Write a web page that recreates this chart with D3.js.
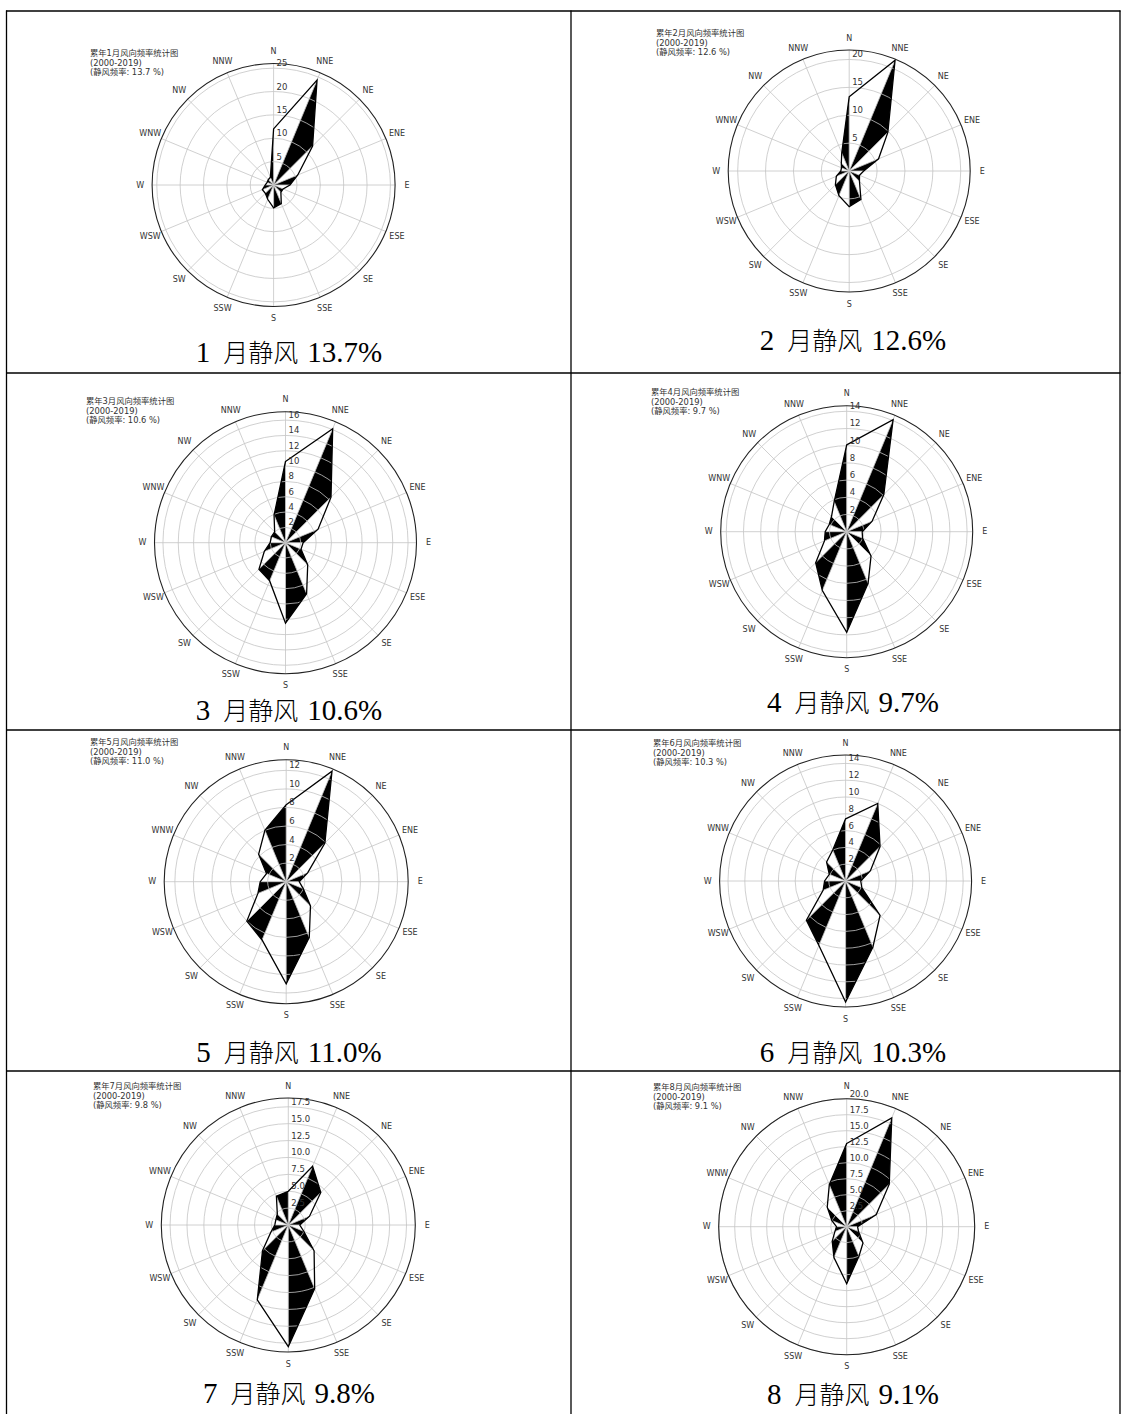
<!DOCTYPE html>
<html>
<head>
<meta charset="utf-8">
<script src="https://cdnjs.cloudflare.com/ajax/libs/d3/7.8.5/d3.min.js"></script>
<style>
  body { margin: 0; background: #fff; }
  svg { display: block; }
</style>
</head>
<body>
<svg id="chart" width="1126" height="1414"></svg>
<script>

var directions = ["N","NNE","NE","ENE","E","ESE","SE","SSE","S","SSW","SW","WSW","W","WNW","NW","NNW"];
var months = [1, 2, 3, 4, 5, 6, 7, 8];
var calmFreq = [13.7, 12.6, 10.6, 9.7, 11.0, 10.3, 9.8, 9.1];

// wind direction frequency (%), order as directions
var freqJan = [12.0, 24.3, 11.8, 5.6, 3.5, 2.2, 2.2, 4.3, 4.9, 3.3, 2.5, 2.6, 1.8, 1.5, 1.6, 1.8];
var freqFeb = [13.3, 21.5, 9.8, 5.7, 2.6, 2.0, 2.6, 5.5, 6.4, 4.8, 3.5, 2.5, 1.5, 1.5, 2.0, 3.5];
var freqMar = [10.6, 16.1, 8.4, 4.6, 2.3, 2.2, 4.1, 7.2, 10.5, 5.4, 4.9, 3.0, 2.0, 2.0, 2.0, 3.9];
var freqApr = [10.1, 14.1, 6.1, 3.2, 1.8, 2.0, 4.0, 6.5, 11.7, 7.4, 5.1, 2.8, 2.5, 2.2, 2.5, 3.8];
var freqMay = [8.3, 12.9, 5.9, 2.5, 1.4, 2.0, 3.7, 6.5, 11.0, 6.8, 6.0, 3.3, 2.8, 2.3, 4.2, 6.0];
var freqJun = [7.4, 10.0, 5.8, 3.2, 1.8, 2.1, 5.8, 8.5, 14.4, 8.3, 6.6, 2.9, 2.5, 2.1, 3.2, 4.0];
var freqJul = [5.0, 9.4, 6.8, 3.4, 1.7, 2.5, 5.4, 10.2, 18.0, 12.0, 5.4, 2.8, 2.0, 2.0, 2.3, 4.6];
var freqAug = [13.0, 18.4, 9.4, 5.0, 1.7, 2.0, 3.6, 5.0, 8.9, 5.2, 3.2, 2.0, 1.6, 2.5, 4.3, 7.1];
var monthFreq = [freqJan, freqFeb, freqMar, freqApr, freqMay, freqJun, freqJul, freqAug];

// radial axis
var radialMax = [26, 21.7, 17.1, 14.65, 13.15, 15, 18.8, 20];
var radialTicks = [
  [5, 10, 15, 20, 25],
  [5, 10, 15, 20],
  [2, 4, 6, 8, 10, 12, 14, 16],
  [2, 4, 6, 8, 10, 12, 14],
  [2, 4, 6, 8, 10, 12],
  [2, 4, 6, 8, 10, 12, 14],
  [2.5, 5, 7.5, 10, 12.5, 15, 17.5],
  [2.5, 5, 7.5, 10, 12.5, 15, 17.5, 20]
];
var tickDigits = [0, 0, 0, 0, 0, 0, 1, 1];

// where each rose sits on the page
var panels = [
  {cx: 273.6, cy: 185,    R: 121.5, tx: 90,  ty: 56},
  {cx: 849.2, cy: 171,    R: 121,   tx: 656, ty: 36},
  {cx: 285.5, cy: 542.7,  R: 131,   tx: 86,  ty: 404},
  {cx: 846.7, cy: 531.7,  R: 126,   tx: 651, ty: 395},
  {cx: 286.2, cy: 881.7,  R: 122,   tx: 90,  ty: 745},
  {cx: 845.6, cy: 881,    R: 126,   tx: 653, ty: 746},
  {cx: 288.3, cy: 1225,   R: 127,   tx: 93,  ty: 1089},
  {cx: 846.7, cy: 1226.7, R: 128,   tx: 653, ty: 1090}
];
var captionY = [362, 350, 720, 712, 1062, 1062, 1403, 1404];
var colCenter = [289, 853];

var svg = d3.select('#chart');

// table frame
var hLines = [11, 373, 730, 1071];
var vLines = [6.5, 571, 1120];
svg.selectAll('line.h').data(hLines).join('line')
   .attr('x1', 6).attr('x2', 1120.5)
   .attr('y1', d => d).attr('y2', d => d)
   .attr('stroke', '#000').attr('stroke-width', 1.3);
svg.selectAll('line.v').data(vLines).join('line')
   .attr('x1', d => d).attr('x2', d => d)
   .attr('y1', 10.5).attr('y2', 1414)
   .attr('stroke', '#000').attr('stroke-width', 1.3);

var ang = d3.scaleLinear().domain([0, directions.length]).range([0, 2 * Math.PI]);

function drawRose(i){

  var p = panels[i];
  var vals = monthFreq[i];
  var n = directions.length;
  var r = d3.scaleLinear().domain([0, radialMax[i]]).range([0, p.R]);

  var g = svg.append('g')
             .attr('transform', "translate(" + p.cx + "," + p.cy + ")");

  // black half of the petals: every other sector
  var blackSectors = d3.range(1, n, 2);
  g.selectAll('path.sector').data(blackSectors).join('path')
   .attr('d', function(k){
      var a = d3.pointRadial(ang(k), r(vals[k]));
      var b = d3.pointRadial(ang(k + 1), r(vals[(k + 1) % n]));
      return "M0,0L" + a + "L" + b + "Z";
   })
   .attr('fill', '#000');

  // grid
  g.selectAll('circle.grid').data(radialTicks[i]).join('circle')
   .attr('r', d => r(d))
   .attr('fill', 'none')
   .attr('stroke', '#c4c4c4')
   .attr('stroke-width', 0.8);
  g.selectAll('line.spoke').data(d3.range(n)).join('line')
   .attr('x1', 0).attr('y1', 0)
   .attr('x2', k => d3.pointRadial(ang(k), p.R)[0])
   .attr('y2', k => d3.pointRadial(ang(k), p.R)[1])
   .attr('stroke', '#c4c4c4')
   .attr('stroke-width', 0.8);

  // outline of the rose
  var outline = d3.lineRadial()
                  .angle((d, k) => ang(k))
                  .radius(d => r(d))
                  .curve(d3.curveLinearClosed);
  g.append('path')
   .attr('d', outline(vals))
   .attr('fill', 'none')
   .attr('stroke', '#000')
   .attr('stroke-width', 1.3)
   .attr('stroke-linejoin', 'miter');

  // spine
  g.append('circle')
   .attr('r', p.R)
   .attr('fill', 'none')
   .attr('stroke', '#222')
   .attr('stroke-width', 1.1);

  // direction labels
  g.selectAll('text.dir').data(directions).join('text')
   .attr('x', (d, k) => d3.pointRadial(ang(k), p.R + 12)[0])
   .attr('y', (d, k) => d3.pointRadial(ang(k), p.R + 12)[1])
   .attr('text-anchor', 'middle')
   .attr('dominant-baseline', 'central')
   .style('font-family', 'DejaVu Sans')
   .style('font-size', '8px')
   .attr('fill', '#333')
   .text(d => d);

  // radial tick labels
  var fmt = d3.format("." + tickDigits[i] + "f");
  g.selectAll('text.rtick').data(radialTicks[i]).join('text')
   .attr('x', 3)
   .attr('y', d => -r(d) - 2)
   .style('font-family', 'DejaVu Sans')
   .style('font-size', '8.5px')
   .attr('fill', '#333')
   .text(d => fmt(d));

  // title block
  var title = ["累年" + months[i] + "月风向频率统计图",
               "(2000-2019)",
               "(静风频率: " + calmFreq[i].toFixed(1) + " %)"];
  svg.append('g').selectAll('text').data(title).join('text')
     .attr('x', p.tx)
     .attr('y', (d, k) => p.ty + k * 9.6)
     .style('font-family', 'DejaVu Sans, Noto Sans CJK SC')
     .style('font-size', '8.3px')
     .attr('fill', '#333')
     .text(d => d);

  // caption under the rose
  var cap = svg.append('text')
               .attr('x', colCenter[i % 2])
               .attr('y', captionY[i])
               .attr('text-anchor', 'middle')
               .style('font-family', 'Liberation Serif, Noto Sans CJK SC')
               .style('font-size', '29px')
               .attr('fill', '#000');
  cap.append('tspan').text(months[i]);
  cap.append('tspan').attr('dx', 13)
     .style('font-family', 'Noto Sans CJK SC')
     .style('font-size', '25px')
     .style('font-weight', 300)
     .text("月静风");
  cap.append('tspan').attr('dx', 9).text(calmFreq[i].toFixed(1) + "%");
}

months.forEach(function(m, i){ drawRose(i); });

</script>
</body>
</html>
